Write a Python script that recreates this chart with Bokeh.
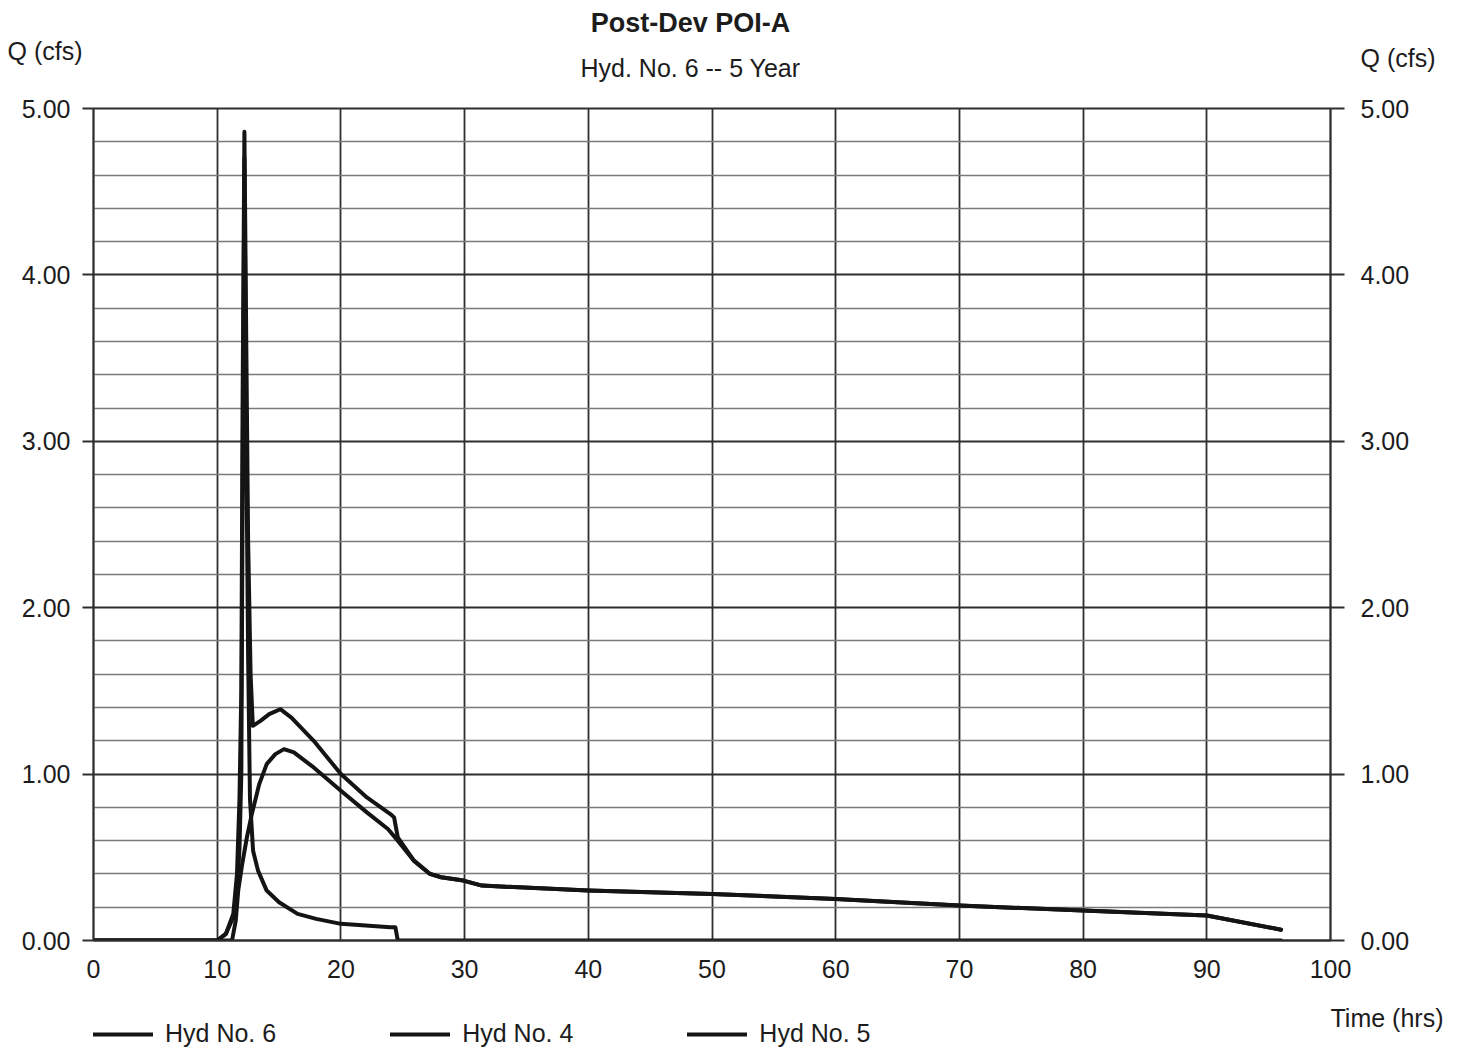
from bokeh.plotting import figure
from bokeh.models import (Range1d, LinearAxis, FixedTicker, PrintfTickFormatter,
                          Legend, LegendItem)
from bokeh.layouts import column
from bokeh.core.properties import value
from bokeh.embed import file_html
from bokeh.resources import INLINE

# ---------------- data ----------------
title = "Post-Dev POI-A"
subtitle = "Hyd. No. 6 -- 5 Year"
y_label = "Q (cfs)"
x_label = "Time (hrs)"

x_ticks = [0, 10, 20, 30, 40, 50, 60, 70, 80, 90, 100]
y_ticks = [0, 1, 2, 3, 4, 5]
y_minor = [0.2, 0.4, 0.6, 0.8, 1.2, 1.4, 1.6, 1.8, 2.2, 2.4, 2.6, 2.8,
           3.2, 3.4, 3.6, 3.8, 4.2, 4.4, 4.6, 4.8]

# Hyd No. 6 (combined POI-A)
hyd6_t = [0, 10.0, 10.7, 11.3, 11.6, 11.8, 11.95, 12.05, 12.2, 12.35, 12.5, 12.7,
          12.88, 13.5, 14.2, 15.1, 16.0, 17.8, 20.0, 22.1, 24.0, 24.3, 24.6, 25.9,
          27.2, 28.1, 29.9, 31.4, 40, 50, 60, 70, 80, 90, 96]
hyd6_q = [0, 0, 0.04, 0.16, 0.40, 0.85, 1.5, 3.2, 4.86, 3.6, 2.4, 1.6,
          1.29, 1.32, 1.36, 1.39, 1.34, 1.20, 1.00, 0.86, 0.76, 0.74, 0.62, 0.48,
          0.40, 0.38, 0.36, 0.33, 0.30, 0.28, 0.25, 0.21, 0.18, 0.15, 0.065]

# Hyd No. 4 (smooth hydrograph with long recession)
hyd4_t = [0, 11.2, 11.5, 11.7, 12.0, 12.4, 12.8, 13.4, 14.0, 14.7, 15.4, 16.2,
          17.8, 20.0, 22.1, 23.8, 24.6, 25.9, 27.2, 28.1, 29.9, 31.4, 40, 50, 60,
          70, 80, 90, 96]
hyd4_q = [0, 0, 0.12, 0.30, 0.45, 0.62, 0.76, 0.94, 1.06, 1.12, 1.15, 1.13,
          1.04, 0.90, 0.77, 0.67, 0.60, 0.48, 0.40, 0.38, 0.36, 0.33, 0.30, 0.28,
          0.25, 0.21, 0.18, 0.15, 0.065]

# Hyd No. 5 (sharp peak)
hyd5_t = [0, 10.0, 10.7, 11.3, 11.6, 11.8, 11.95, 12.05, 12.2, 12.35, 12.5, 12.65,
          12.9, 13.3, 14.0, 15.0, 16.5, 18.0, 20.0, 22.0, 24.0, 24.4, 24.6, 96.0]
hyd5_q = [0, 0, 0.04, 0.14, 0.28, 0.55, 1.0, 2.6, 4.70, 3.0, 1.7, 0.85,
          0.54, 0.42, 0.30, 0.23, 0.16, 0.13, 0.10, 0.09, 0.08, 0.08, 0.0, 0.0]

series_names = ["Hyd No. 6", "Hyd No. 4", "Hyd No. 5"]
series_t = [hyd6_t, hyd4_t, hyd5_t]
series_q = [hyd6_q, hyd4_q, hyd5_q]

# ---------------- styling ----------------
FONT = "Liberation Sans"
TXT = "#1c1c1c"
DARK = "#2e2e2e"
MINOR = "#7a7a7a"
LINE = "#141414"
W = 1452
line_kw = dict(line_color=LINE, line_width=4, line_join="round", line_cap="round")


def bare_figure(height):
    # x in page pixels of the (column-aligned) frame, y in pixels from the top
    f = figure(width=W, height=height, output_backend="svg", toolbar_location=None,
               x_range=Range1d(93, 1330), y_range=Range1d(height, 0),
               x_axis_location=None, y_axis_location=None,
               min_border_left=0, min_border_right=0, min_border_top=0,
               min_border_bottom=0, border_fill_color="white",
               background_fill_color="white")
    f.outline_line_color = None
    f.grid.visible = False
    return f


def caption_axis(pos, text, standoff):
    ax = LinearAxis(ticker=FixedTicker(ticks=[pos]), major_label_overrides={pos: text})
    ax.axis_line_color = None
    ax.major_tick_line_color = None
    ax.minor_tick_line_color = None
    ax.major_tick_out = 0
    ax.major_tick_in = 0
    ax.major_label_standoff = standoff
    ax.major_label_text_font = FONT
    ax.major_label_text_font_size = "25px"
    ax.major_label_text_color = TXT
    return ax


# ---------------- header (titles, axis captions) ----------------
top = bare_figure(88)
top.text(x=[690], y=[22], text=[title], text_align="center", text_baseline="middle",
         text_font=value(FONT), text_font_size="27px", text_font_style="bold",
         text_color=TXT)
top.text(x=[690], y=[67], text=[subtitle], text_align="center", text_baseline="middle",
         text_font=value(FONT), text_font_size="25px", text_color=TXT)
top.add_layout(caption_axis(50, y_label, 11), "left")
top.add_layout(caption_axis(57, y_label, 30), "right")

# ---------------- main chart ----------------
p = figure(width=W, height=912, output_backend="svg", toolbar_location=None,
           x_range=Range1d(0, 100), y_range=Range1d(0, 5),
           min_border_left=93, min_border_right=122,
           min_border_top=20, min_border_bottom=60,
           background_fill_color="white", border_fill_color="white")
p.title.visible = False
p.outline_line_color = DARK
p.outline_line_width = 1.8

xa = p.xaxis[0]
xa.ticker = FixedTicker(ticks=x_ticks)
xa.major_tick_out = 0
xa.major_tick_in = 0
xa.minor_tick_out = 0
xa.minor_tick_in = 0
xa.axis_line_color = DARK
xa.axis_line_width = 1.8
xa.major_label_text_font = FONT
xa.major_label_text_font_size = "25px"
xa.major_label_text_color = TXT
xa.major_label_standoff = 19

ya = p.yaxis[0]
ya.ticker = FixedTicker(ticks=y_ticks, minor_ticks=y_minor)
ya.formatter = PrintfTickFormatter(format="%.2f")
ya.major_tick_out = 11
ya.major_tick_in = 0
ya.minor_tick_out = 0
ya.minor_tick_in = 0
ya.major_tick_line_color = DARK
ya.major_tick_line_width = 1.8
ya.axis_line_color = DARK
ya.axis_line_width = 1.8
ya.major_label_text_font = FONT
ya.major_label_text_font_size = "25px"
ya.major_label_text_color = TXT
ya.major_label_standoff = 12

ra = LinearAxis(ticker=FixedTicker(ticks=y_ticks, minor_ticks=y_minor),
                formatter=PrintfTickFormatter(format="%.2f"))
ra.major_tick_out = 14
ra.major_tick_in = 0
ra.minor_tick_out = 0
ra.minor_tick_in = 0
ra.major_tick_line_color = DARK
ra.major_tick_line_width = 1.8
ra.axis_line_color = DARK
ra.axis_line_width = 1.8
ra.major_label_text_font = FONT
ra.major_label_text_font_size = "25px"
ra.major_label_text_color = TXT
ra.major_label_standoff = 16
p.add_layout(ra, "right")

p.xgrid.ticker = FixedTicker(ticks=x_ticks)
p.xgrid.grid_line_color = DARK
p.xgrid.grid_line_width = 1.8
p.ygrid.ticker = FixedTicker(ticks=y_ticks, minor_ticks=y_minor)
p.ygrid.grid_line_color = DARK
p.ygrid.grid_line_width = 1.8
p.ygrid.minor_grid_line_color = MINOR
p.ygrid.minor_grid_line_width = 1.6

for t, q in zip(series_t, series_q):
    p.line(t, q, **line_kw)

# ---------------- footer (legend, x caption) ----------------
bottom = bare_figure(48)
bottom.add_layout(caption_axis(17, x_label, 0), "right")
# legend proxies: the same series on an off-screen range, so only the legend shows them
bottom.extra_x_ranges = {"off": Range1d(1000, 1100)}
leg_renderers = [bottom.line(t, q, x_range_name="off", **line_kw)
                 for t, q in zip(series_t, series_q)]
legend = Legend(items=[LegendItem(label=n, renderers=[r])
                       for n, r in zip(series_names, leg_renderers)],
                orientation="horizontal", location=(0, 0),
                glyph_width=60, glyph_height=20, label_standoff=12, spacing=114,
                padding=0, margin=0, border_line_alpha=0, background_fill_alpha=0,
                label_text_font=FONT, label_text_font_size="25px",
                label_text_color=TXT)
bottom.add_layout(legend, "center")

layout = column(top, p, bottom, spacing=0)
open("out.html", "w").write(file_html(layout, INLINE))
